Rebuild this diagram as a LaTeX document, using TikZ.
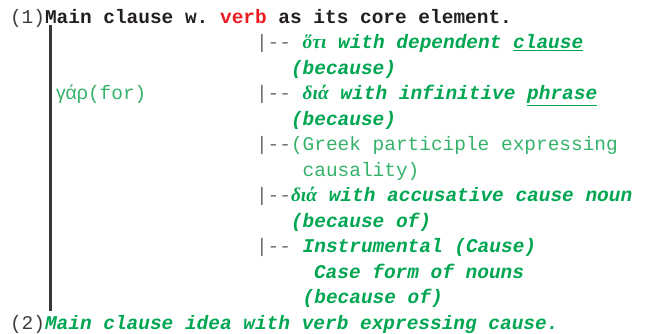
\documentclass[tikz,border=0pt]{standalone}
\usepackage{fontspec}
\setmonofont{Liberation Mono}
\newfontfamily\grkserif{Liberation Serif}
\newfontfamily\grksans{Liberation Sans}
\definecolor{gbold}{RGB}{0,166,81}
\definecolor{greg}{RGB}{52,178,106}
\definecolor{barg}{RGB}{110,110,110}
\definecolor{mainblk}{RGB}{35,31,32}
\definecolor{vred}{RGB}{237,28,36}
\definecolor{numg}{RGB}{60,60,60}
\tikzset{
  txt/.style={anchor=base west, inner sep=0pt, outer sep=0pt,
    font=\ttfamily\fontsize{19.45}{25.5}\selectfont},
  grb/.style={txt, text=gbold, font=\ttfamily\fontsize{19.45}{25.5}\selectfont\bfseries\itshape},
  grr/.style={txt, text=greg},
  mainline/.style={line width=3pt, draw=mainblk!90}
}
\newcommand{\barstub}[1]{{\color{barg}#1}}
\newcommand{\grkit}[1]{{\grkserif\bfseries\itshape #1}}
\begin{document}
\begin{tikzpicture}[x=1pt,y=-1pt]
\useasboundingbox (0,0) rectangle (655,333);
% line 0
\node[txt] (l0) at (10,23) {{\color{numg}(1)}{\bfseries\color{mainblk}Main clause w. {\color{vred}verb} as its core element.}};
% vertical line
\coordinate (vtop) at (50,25);
\coordinate (vbot) at (50,311);
\draw[mainline] (vtop) -- (vbot);
% line 1
\node[txt] (l1) at (256,48.5) {\barstub{|--} {\color{gbold}\bfseries\itshape\grkit{ὅτι} with dependent \underline{clause}}};
\node[grb] (l2) at (291,74) {(because)};
% line 3
\node[grr] (gar) at (56,99.5) {{\grksans γάρ}(for)};
\node[txt] (l3) at (256,99.5) {\barstub{|--} {\color{gbold}\bfseries\itshape\grkit{διά} with infinitive \underline{phrase}}};
\node[grb] (l4) at (291,125) {(because)};
% line 5
\node[txt] (l5) at (256,150.5) {\barstub{|--}{\color{greg}(Greek participle expressing}};
\node[grr] (l6) at (302.7,176) {causality)};
% line 7
\node[txt] (l7) at (256,201.5) {\barstub{|--}{\color{gbold}\bfseries\itshape\grkit{διά} with accusative cause noun}};
\node[grb] (l8) at (291,227) {(because of)};
% line 9
\node[txt] (l9) at (256,252.5) {\barstub{|--} {\color{gbold}\bfseries\itshape Instrumental (Cause)}};
\node[grb] (l10) at (314,278) {Case form of nouns};
\node[grb] (l11) at (302.7,303.5) {(because of)};
% line 12
\node[txt] (l12) at (10,329) {{\color{numg}(2)}{\color{gbold}\bfseries\itshape Main clause idea with verb expressing cause.}};
\end{tikzpicture}
\end{document}
